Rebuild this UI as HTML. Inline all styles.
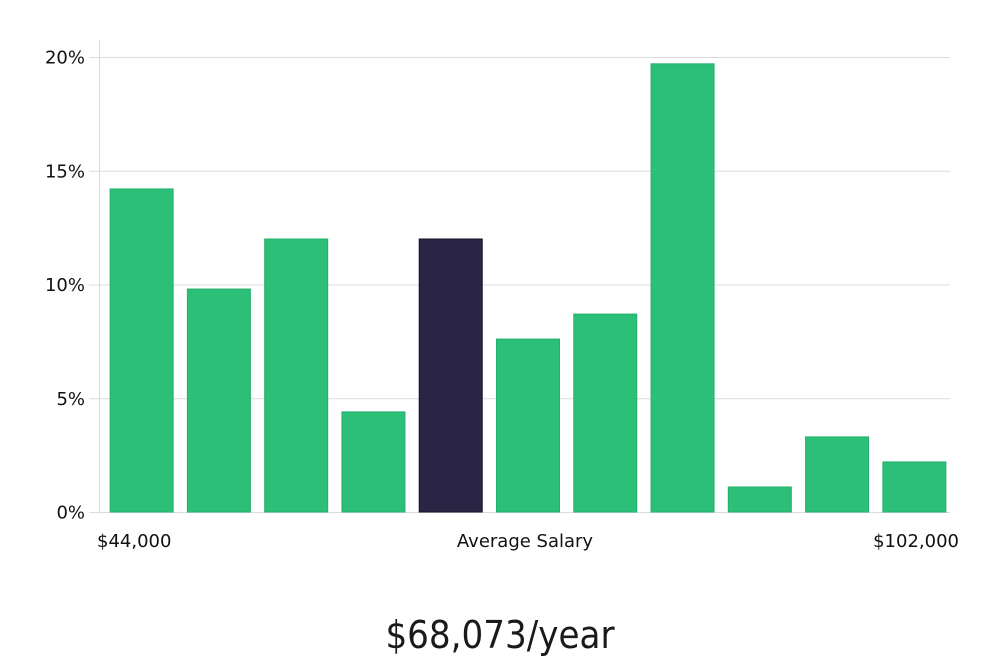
<!DOCTYPE html>
<html><head><meta charset="utf-8">
<style>
html,body{margin:0;padding:0;background:#fff;}
body{width:1000px;height:660px;overflow:hidden;}
svg text{font-family:"DejaVu Sans","Liberation Sans",sans-serif;}
</style></head>
<body>
<svg id="chart" width="1000" height="660" xmlns="http://www.w3.org/2000/svg">
<g id="grid"></g>
<g id="bars"></g>
<line x1="99.5" y1="40" x2="99.5" y2="512" stroke="#d8d8d8" stroke-width="1"/>
<g id="ylabels"></g>
<text x="97" y="547" font-size="18" fill="#111">$44,000</text>
<text x="525" y="547" font-size="18" fill="#111" text-anchor="middle">Average Salary</text>
<text x="959" y="547" font-size="18" fill="#111" text-anchor="end">$102,000</text>
<text x="500" y="648" font-size="38" fill="#1a1a1a" text-anchor="middle" style="font-family:'Liberation Sans Narrow','DejaVu Sans Condensed','Liberation Sans',sans-serif;font-stretch:condensed;">$68,073/year</text>
</svg>
<script>
const values = [14.2, 9.8, 12.0, 4.4, 12.0, 7.6, 8.7, 19.7, 1.1, 3.3, 2.2];
const highlightIndex = [4];
const yTicks = [0, 5, 10, 15, 20];
const yTickLabels = ["0%", "5%", "10%", "15%", "20%"];

const NS = "http://www.w3.org/2000/svg";
const x0 = 100, x1 = 950, yBase = 512, yTop = 57, yMax = 20;
const y = v => yBase - (v / yMax) * (yBase - yTop);
const slot = (x1 - x0) / values.length;
const barW = 63;
const xb = i => x0 + i * slot + (slot - barW) / 2 + 3;

const grid = document.getElementById('grid');
const yl = document.getElementById('ylabels');
yTicks.forEach((t, i) => {
  const ln = document.createElementNS(NS, 'line');
  
  
  ln.setAttribute('x1', 89); ln.setAttribute('x2', x1);
  ln.setAttribute('y1', y(t) + 0.5); ln.setAttribute('y2', y(t) + 0.5);
  ln.setAttribute('stroke', '#dcdcdc'); ln.setAttribute('stroke-width', 1);
  grid.appendChild(ln);
  const tx = document.createElementNS(NS, 'text');
  
  
  tx.setAttribute('x', 85); tx.setAttribute('y', y(t) + 6.5);
  tx.setAttribute('text-anchor', 'end'); tx.setAttribute('font-size', '18');
  tx.setAttribute('fill', '#111');
  tx.textContent = yTickLabels[i];
  yl.appendChild(tx);
});

const bars = document.getElementById('bars');
values.forEach((v, i) => {
  const r = document.createElementNS(NS, 'rect');
  
  
  const hi = highlightIndex.includes(i);
  r.setAttribute('x', xb(i)); r.setAttribute('width', barW);
  r.setAttribute('y', y(v)); r.setAttribute('height', yBase - y(v));
  r.setAttribute('fill', hi ? '#2a2545' : '#2bbf77');
  r.setAttribute('stroke', hi ? '#15122a' : '#25b06c');
  r.setAttribute('stroke-width', 1);
  bars.appendChild(r);
});
</script>
</body></html>
